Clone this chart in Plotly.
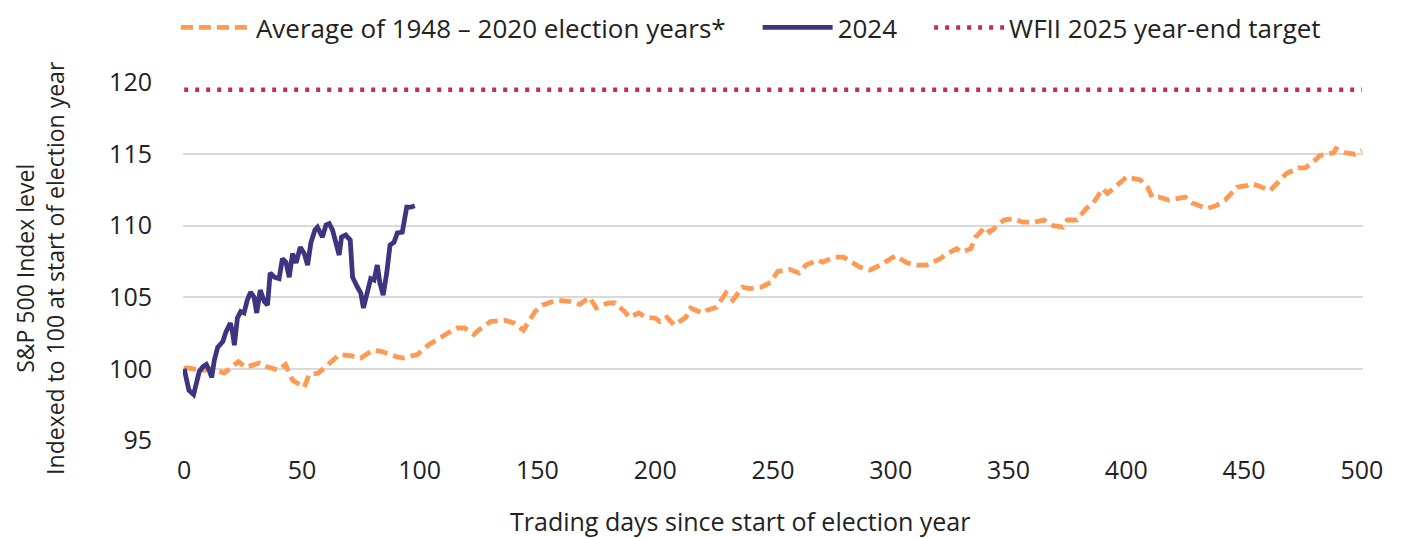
import plotly.graph_objects as go

# Average of 1948-2020 election years (trading day, index level)
avg_days = [0, 1, 8, 12, 17, 23, 26, 32, 35, 40, 43, 46, 51, 53, 57, 60, 66, 71, 75, 80, 84, 90, 93, 99,
            104, 112, 116, 119, 123, 125, 130, 136, 140, 144, 149, 152, 158, 164, 168, 172, 175, 180, 183,
            187, 189, 193, 196, 200, 202, 205, 208, 213, 215, 220, 222, 226, 230, 233, 237, 240, 245, 249,
            252, 257, 261, 264, 269, 271, 276, 280, 284, 287, 291, 295, 299, 302, 307, 311, 315, 321, 324,
            328, 330, 334, 336, 340, 342, 345, 348, 352, 356, 361, 365, 369, 373, 375, 379, 383, 386, 390,
            392, 396, 398, 400, 406, 409, 411, 414, 418, 423, 425, 428, 434, 438, 442, 447, 451, 453, 456,
            461, 465, 468, 473, 476, 481, 482, 488, 489, 493, 497, 500]
avg_vals = [100.0, 100.07, 99.9, 100.0, 99.7, 100.5, 100.1, 100.4, 100.15, 99.9, 100.3, 99.2, 98.7, 99.6,
            99.7, 100.15, 101.0, 100.9, 100.75, 101.3, 101.2, 100.85, 100.75, 101.0,
            101.7, 102.5, 102.85, 102.85, 102.4, 102.7, 103.3, 103.4, 103.2, 102.7, 104.0, 104.45, 104.8,
            104.7, 104.5, 105.0, 104.25, 104.6, 104.6,
            104.0, 103.6, 103.9, 103.6, 103.55, 103.3, 103.6, 103.05, 103.6, 104.25, 103.9, 104.1, 104.3,
            105.3, 104.8, 105.7, 105.6, 105.7, 106.05,
            106.8, 106.95, 106.7, 107.25, 107.6, 107.45, 107.8, 107.8, 107.45, 107.1, 106.9, 107.2, 107.6,
            107.9, 107.4, 107.25, 107.25, 107.7, 108.05,
            108.4, 108.15, 108.4, 109.2, 109.9, 109.55, 110.0, 110.4, 110.5, 110.25, 110.25, 110.4, 110.0,
            109.9, 110.4, 110.4, 111.2, 111.6, 112.6,
            112.25, 112.8, 113.15, 113.4, 113.2, 112.7, 112.0, 112.0, 111.8, 111.9, 112.0, 111.6, 111.2,
            111.4, 111.8, 112.7, 112.8, 112.95, 112.8,
            112.45, 113.15, 113.65, 114.05, 114.05, 114.7, 114.9, 115.1, 115.4, 115.1, 115.0, 115.25]

# 2024 (trading day, index level)
y2024_days = [0, 1, 2, 4, 5, 6.4, 8, 9.4, 10.6, 11.7, 12.8, 14.2, 16.4, 17.8, 19.6, 20.5, 21.3, 22.6, 24,
              25.4, 26.8, 28.2, 29.7, 30.8, 32.3, 34, 35.4, 36.5, 38.3, 40.3, 41.7, 43.2, 44.6, 46, 47.5,
              49.3, 51, 52.4, 53.8, 55.5, 56.6, 58.7, 60.2, 61.6, 63, 64.4, 65.8, 66.8, 68.6, 70.5, 71.5,
              73.6, 75, 76.1, 77.8, 79.2, 80.6, 82, 83.1, 84.5, 86, 87.4, 89.1, 90.5, 92.6, 93.4, 94.5,
              96.2, 97.9]
y2024_vals = [100.0, 99.4, 98.5, 98.2, 98.75, 99.8, 100.15, 100.3, 99.9, 99.4, 100.6, 101.5, 101.9, 102.6,
              103.2, 102.6, 101.65, 103.55, 104.0, 103.9, 104.8, 105.35, 105.0, 103.9, 105.5, 104.7,
              104.45, 106.7, 106.4, 106.3, 107.7, 107.45, 106.4, 108.05, 107.4, 108.5, 108.05, 107.25,
              108.8, 109.7, 109.9, 109.2, 110.05, 110.15, 109.7, 108.85, 107.95, 109.2, 109.35, 109.0,
              106.4, 105.7, 105.3, 104.25, 105.5, 106.3, 106.2, 107.25, 106.0, 105.15, 106.7, 108.65,
              108.85, 109.5, 109.55, 110.15, 111.3, 111.3, 111.4]

# WFII 2025 year-end target
target_days = [0, 500]
target_vals = [119.5, 119.5]

y_ticks = [95, 100, 105, 110, 115, 120]
x_ticks = [0, 50, 100, 150, 200, 250, 300, 350, 400, 450, 500]

FONT = "Open Sans, Noto Sans, sans-serif"
TXT = "#222222"
PAD = "\u00a0" * 4

fig = go.Figure()
fig.add_trace(go.Scatter(x=avg_days, y=avg_vals, mode="lines",
                         name="Average of 1948 – 2020 election years*" + PAD,
                         line=dict(color="#FF9A55", width=4.8, dash="12px,6px")))
fig.add_trace(go.Scatter(x=y2024_days, y=y2024_vals, mode="lines", name="2024" + PAD,
                         line=dict(color="#3E3580", width=4.8)))
fig.add_trace(go.Scatter(x=target_days, y=target_vals, mode="lines",
                         name="WFII 2025 year-end target",
                         line=dict(color="#C92A52", width=4.5, dash="4px,7px")))

fig.update_layout(
    width=1395, height=530,
    margin=dict(l=175, r=40, t=74, b=97, autoexpand=False),
    paper_bgcolor="white", plot_bgcolor="white",
    showlegend=True,
    legend=dict(orientation="h", x=-0.006, y=1.2172, xanchor="left", yanchor="top",
                font=dict(family=FONT, size=26, color=TXT),
                itemwidth=70, tracegroupgap=0),
    font=dict(family=FONT, color=TXT),
)

fig.update_xaxes(range=[-0.5, 500.5], tickvals=x_ticks, showgrid=False, zeroline=False,
                 showline=False, ticks="", ticklabelstandoff=12,
                 tickfont=dict(family=FONT, size=25, color=TXT))
fig.update_yaxes(range=[94.95, 120.05], tickvals=y_ticks, showgrid=True, gridcolor="#D9D9D9",
                 gridwidth=2, zeroline=False, showline=False, ticks="", ticklabelstandoff=30,
                 tickfont=dict(family=FONT, size=25, color=TXT))

fig.add_annotation(text="S&P 500 Index level<br>Indexed to 100 at start of election year",
                   xref="paper", yref="paper", x=-0.1218, y=0.483, xanchor="center", yanchor="middle",
                   textangle=-90, showarrow=False,
                   font=dict(family=FONT, size=23, color=TXT))
fig.add_annotation(text="Trading days since start of election year",
                   xref="paper", yref="paper", x=0.472, y=-0.223, xanchor="center", yanchor="middle",
                   showarrow=False, font=dict(family=FONT, size=25, color=TXT))

fig.write_html("out.html")
